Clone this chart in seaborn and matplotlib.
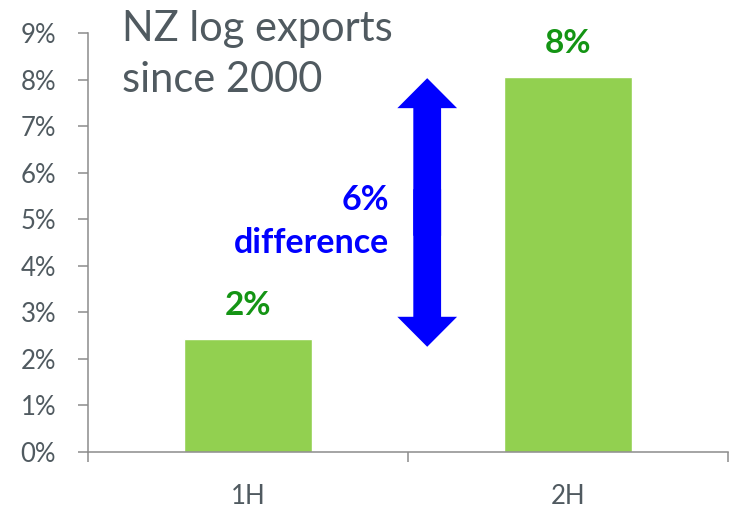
import matplotlib
matplotlib.use("Agg")
import matplotlib.pyplot as plt
import matplotlib.patches as mpatches
import seaborn as sns
import pandas as pd

# data
halves = ["1H", "2H"]
growth = [2.43, 8.05]
bar_labels = ["2%", "8%"]
diff_low = 2.26
diff_high = 8.03
diff_text = ["6%", "difference"]
title_lines = ["NZ log exports", "since 2000"]

sns.set_style("white")
plt.rcParams['font.family'] = ['Lato', 'DejaVu Sans']

grey = "#505a60"
spine = "#8c8c8c"
bar_green = "#92d050"
label_green = "#149414"
blue = "#0000ff"

df = pd.DataFrame({"half": halves, "growth": growth})

fig = plt.figure(figsize=(7.34, 5.12), dpi=100)
ax = fig.add_axes([88 / 734, 60 / 512, 640 / 734, 419 / 512])

sns.barplot(data=df, x="half", y="growth", order=halves, color=bar_green,
            saturation=1, width=0.4, ax=ax)

ax.set_xlim(-0.5, 1.5)
ax.set_ylim(0, 9)
ax.set_xlabel("")
ax.set_ylabel("")

ax.set_yticks(range(0, 10))
ax.set_yticklabels([f"{i}%" for i in range(0, 10)])
ax.tick_params(axis="y", length=7, width=1.1, color=spine, pad=16,
               labelsize=18.5, labelcolor=grey, left=True)

# category boundaries as major ticks, names on minor ticks
ax.set_xticks([-0.5, 0.5, 1.5])
ax.set_xticklabels(["", "", ""])
ax.set_xticks([0, 1], minor=True)
ax.set_xticklabels(halves, minor=True)
ax.tick_params(axis="x", which="major", length=7, width=1.1, color=spine,
               bottom=True, direction="out")
ax.tick_params(axis="x", which="minor", length=0, pad=23,
               labelsize=18.5, labelcolor=grey)

for side in ["top", "right"]:
    ax.spines[side].set_visible(False)
for side in ["left", "bottom"]:
    ax.spines[side].set_color(spine)
    ax.spines[side].set_linewidth(1.1)

# value labels above the bars
for i, lab in enumerate(bar_labels):
    ax.text(i, growth[i] + 0.72, lab, ha="center", va="center",
            fontsize=24, fontweight="bold", color=label_green)

# double-headed difference arrow (two halves that overlap in the middle)
arrow_x = 0.56
mid = (diff_low + diff_high) / 2
for start, end in [(mid - 0.5, diff_high), (mid + 0.5, diff_low)]:
    arr = mpatches.FancyArrowPatch(
        (arrow_x, start), (arrow_x, end),
        arrowstyle="simple,head_length=21.6,head_width=43,tail_width=20",
        mutation_scale=1, shrinkA=0, shrinkB=0, color=blue, lw=0)
    ax.add_patch(arr)

ax.text(0.44, 5.41, diff_text[0], ha="right", va="center",
        fontsize=24.5, fontweight="bold", color=blue)
ax.text(0.44, 4.49, diff_text[1], ha="right", va="center",
        fontsize=24.5, fontweight="bold", color=blue)

# title inside the chart area
fig.text(122 / 734, 1 - 29 / 512, title_lines[0], ha="left", va="center",
         fontsize=30, color=grey)
fig.text(122 / 734, 1 - 80 / 512, title_lines[1], ha="left", va="center",
         fontsize=30, color=grey)

fig.savefig("out.png", dpi=100)
